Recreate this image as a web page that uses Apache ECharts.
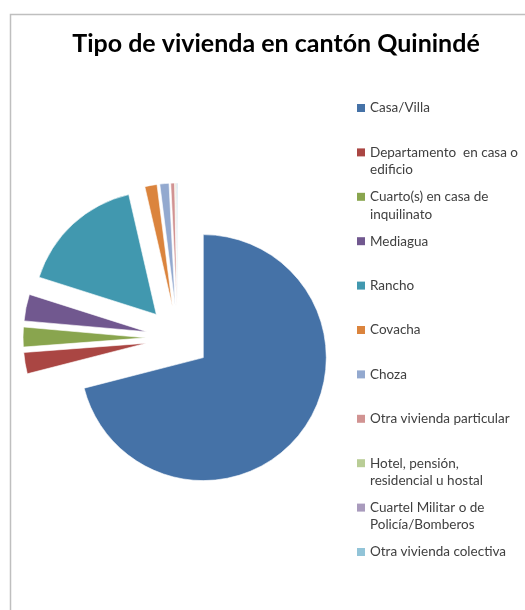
<!DOCTYPE html>
<html>
<head>
<meta charset="utf-8">
<script src="https://cdn.jsdelivr.net/npm/echarts@6/dist/echarts.min.js"></script>
<style>
  html, body { margin: 0; padding: 0; background: #ffffff; }
  #chart { width: 525px; height: 610px; }
</style>
</head>
<body>
<div id="chart"></div>
<script>
// ---- data ----
const chartTitle = 'Tipo de vivienda en cantón Quinindé';
const categories = [
  'Casa/Villa',
  'Departamento en casa o edificio',
  'Cuarto(s) en casa de inquilinato',
  'Mediagua',
  'Rancho',
  'Covacha',
  'Choza',
  'Otra vivienda particular',
  'Hotel, pensión, residencial u hostal',
  'Cuartel Militar o de Policía/Bomberos',
  'Otra vivienda colectiva'
];
const legendLabels = [
  'Casa/Villa',
  'Departamento  en casa o\nedificio',
  'Cuarto(s) en casa de\ninquilinato',
  'Mediagua',
  'Rancho',
  'Covacha',
  'Choza',
  'Otra vivienda particular',
  'Hotel, pensión,\nresidencial u hostal',
  'Cuartel Militar o de\nPolicía/Bomberos',
  'Otra vivienda colectiva'
];
const values = [71.0, 2.8, 2.6, 3.5, 16.5, 1.6, 1.2, 0.5, 0.1, 0.1, 0.1];
const colors = ['#4572A7', '#AA4643', '#89A54E', '#71588F', '#4198AF', '#DB843D',
                '#93A9CF', '#D19392', '#B9CD96', '#A99BBD', '#92C4D8'];

// ---- chart ----
const chart = echarts.init(document.getElementById('chart'), null, { renderer: 'canvas' });
const FONT = 'Lato, "Liberation Sans", sans-serif';
const LH = 17.5;
const legendStart = 108, legendStep = 44.4;

const legends = categories.map((name, i) => {
  const twoLine = legendLabels[i].indexOf('\n') >= 0;
  // two-line labels get an empty leading line so the icon sits beside the first line
  const label = twoLine ? '\n' + legendLabels[i] : legendLabels[i];
  const half = twoLine ? (LH * 3) / 2 : LH / 2;
  return {
    orient: 'vertical',
    left: 357,
    top: legendStart + i * legendStep - half,
    padding: 0,
    itemWidth: 8,
    itemHeight: 8,
    icon: 'rect',
    selectedMode: false,
    itemStyle: { borderWidth: 0 },
    data: [name],
    formatter: () => label,
    textStyle: {
      fontFamily: FONT,
      fontSize: 13.5,
      color: '#404040',
      lineHeight: LH
    }
  };
});

const option = {
  animation: false,
  backgroundColor: '#ffffff',
  color: colors,
  title: {
    text: chartTitle,
    left: 271,
    textAlign: 'center',
    top: 26,
    textStyle: { fontFamily: FONT, fontSize: 25, fontWeight: 'bold', color: '#000000' }
  },
  graphic: [{
    type: 'rect',
    silent: true,
    z: -10,
    shape: { x: 10.5, y: 14.5, width: 700, height: 800 },
    style: { fill: 'none', stroke: '#bfbfbf', lineWidth: 1.5 }
  }],
  legend: legends,
  series: [{
    type: 'pie',
    center: [178, 338],
    radius: 123,
    startAngle: 90,
    clockwise: true,
    selectedMode: 'multiple',
    selectedOffset: 32,
    label: { show: false },
    labelLine: { show: false },
    emphasis: { disabled: true },
    itemStyle: { borderColor: '#ffffff', borderWidth: 0.6 },
    data: categories.map((name, i) => ({ name: name, value: values[i], selected: true }))
  }]
};
chart.setOption(option);
</script>
</body>
</html>
